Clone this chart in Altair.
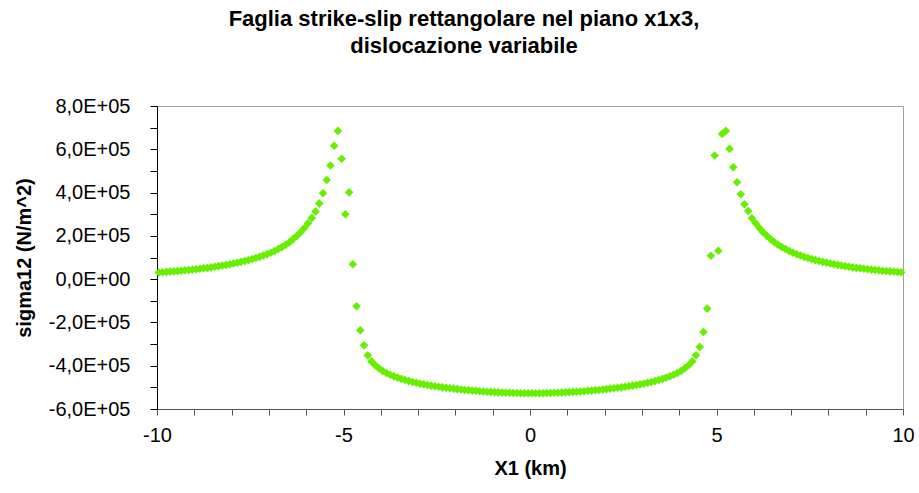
import altair as alt
import numpy as np
import pandas as pd

# Sample positions along x1 (km): 200 stations, 0.1 km apart
x_km = np.round(-9.95 + 0.1 * np.arange(200), 2)

# sigma12 in units of 1E+05 N/m^2, stations x1 = -9.95 ... -0.05
sigma12_left = [
    0.31, 0.32, 0.335, 0.35, 0.36, 0.375, 0.39, 0.41, 0.425, 0.44,
    0.46, 0.48, 0.50, 0.52, 0.545, 0.57, 0.60, 0.63, 0.66, 0.69,
    0.72, 0.76, 0.80, 0.84, 0.88, 0.93, 0.98, 1.03, 1.09, 1.15,
    1.22, 1.30, 1.39, 1.48, 1.59, 1.71, 1.85, 2.00, 2.17, 2.36,
    2.58, 2.83, 3.12, 3.50, 3.97, 4.58, 5.25, 6.16, 6.85, 5.56,
    3.00, 4.01, 0.69, -1.25, -2.36, -3.06, -3.52, -3.80, -3.98, -4.12,
    -4.24, -4.34, -4.42, -4.49, -4.55, -4.61, -4.66, -4.71, -4.75, -4.79,
    -4.83, -4.86, -4.89, -4.92, -4.95, -4.97, -5.00, -5.02, -5.04, -5.06,
    -5.08, -5.10, -5.12, -5.13, -5.15, -5.16, -5.18, -5.19, -5.20, -5.21,
    -5.22, -5.23, -5.24, -5.25, -5.25, -5.26, -5.26, -5.27, -5.27, -5.27,
]

# sigma12 in units of 1E+05 N/m^2, stations x1 = 0.05 ... 9.95
sigma12_right = [
    -5.27, -5.27, -5.27, -5.27, -5.26, -5.26, -5.25, -5.25, -5.24, -5.23,
    -5.22, -5.21, -5.20, -5.19, -5.18, -5.16, -5.15, -5.13, -5.12, -5.10,
    -5.08, -5.06, -5.04, -5.02, -5.00, -4.97, -4.95, -4.92, -4.89, -4.86,
    -4.83, -4.79, -4.75, -4.71, -4.66, -4.61, -4.55, -4.49, -4.42, -4.34,
    -4.24, -4.12, -3.98, -3.80, -3.52, -3.13, -2.44, -1.36, 1.08, 5.71,
    1.31, 6.71, 6.85, 6.02, 5.17, 4.48, 3.92, 3.46, 3.15, 2.81,
    2.58, 2.36, 2.17, 2.00, 1.85, 1.71, 1.59, 1.48, 1.39, 1.30,
    1.22, 1.15, 1.09, 1.03, 0.98, 0.93, 0.88, 0.84, 0.80, 0.76,
    0.72, 0.69, 0.66, 0.63, 0.60, 0.57, 0.545, 0.52, 0.50, 0.48,
    0.46, 0.44, 0.425, 0.41, 0.39, 0.375, 0.36, 0.35, 0.335, 0.32,
]

x_ticks = list(range(-10, 11))                 # minor ticks every 1 km
y_ticks = [i * 100000 for i in range(-6, 9)]   # minor ticks every 1E+05

df = pd.DataFrame({
    "x1": x_km,
    "sigma12": np.array(sigma12_left + sigma12_right) * 1e5,
})

FONT = "Liberation Sans"
GREEN = "#66f000"

y_label = (
    "datum.value % 200000 == 0 ? "
    "(datum.value == 0 ? '0,0E+00' : "
    "(datum.value < 0 ? '-' : '') + toString(abs(datum.value) / 100000) + ',0E+05') : ''"
)
x_label = "datum.value % 5 == 0 ? toString(datum.value) : ''"

points = alt.Chart(df).mark_point(
    shape="diamond", filled=True, size=74, color=GREEN, opacity=1
).encode(
    x=alt.X(
        "x1:Q",
        scale=alt.Scale(domain=[-10, 10], nice=False, zero=False),
        axis=alt.Axis(
            values=x_ticks, labelExpr=x_label, labelOverlap=False, labelFlush=False,
            title="X1 (km)", titleX=373, titleY=59, titleBaseline="middle",
            tickSize=6, labelPadding=10, grid=False,
            labelFont=FONT, labelFontSize=20, labelColor="#000000",
            titleFont=FONT, titleFontSize=20, titleFontWeight="bold", titleColor="#000000",
            domainColor="#555555", tickColor="#555555",
        ),
    ),
    y=alt.Y(
        "sigma12:Q",
        scale=alt.Scale(domain=[-600000, 800000], nice=False, zero=False),
        axis=alt.Axis(
            values=y_ticks, labelExpr=y_label, labelOverlap=False, labelFlush=False,
            title="sigma12 (N/m^2)", titleX=-133, titleY=151.5,
            titleBaseline="middle", titleAngle=270,
            tickSize=7, labelPadding=20, grid=False,
            labelFont=FONT, labelFontSize=20, labelColor="#000000",
            titleFont=FONT, titleFontSize=20, titleFontWeight="bold", titleColor="#000000",
            domainColor="#000000", tickColor="#000000",
        ),
    ),
)

chart = points.properties(
    width=746,
    height=303,
    padding={"left": 157, "top": 106, "right": 16, "bottom": 84},
    autosize=alt.AutoSizeParams(type="none"),
    background="#ffffff",
    title=alt.TitleParams(
        ["Faglia strike-slip rettangolare nel piano x1x3,", "dislocazione variabile"],
        font=FONT, fontSize=22, fontWeight="bold", color="#000000",
        anchor="middle", dx=-66, offset=38, lineHeight=27,
    ),
).configure_view(
    stroke="#a0a0a0", strokeWidth=1
).configure_axis(
    domainWidth=1, tickWidth=1,
)

chart.save("out.html", embed_options={"renderer": "svg", "actions": False})
